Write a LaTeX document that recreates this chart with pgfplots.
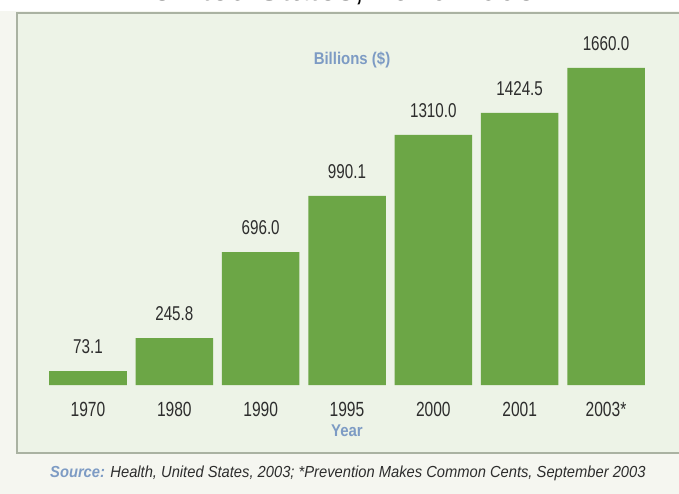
\documentclass[border=0pt]{standalone}
\usepackage{fontspec}
\setmainfont{Liberation Sans}
\newfontfamily\condfont{Liberation Sans}[FakeStretch=0.76]
\newfontfamily\labfont{Liberation Sans}[FakeStretch=0.88]
\newfontfamily\srcfont{Liberation Sans}[FakeStretch=0.92]
\usepackage{pgfplots}
\pgfplotsset{compat=1.18}
\definecolor{outerbg}{RGB}{245,246,240}
\definecolor{panelbg}{RGB}{237,243,231}
\definecolor{panelline}{RGB}{170,178,162}
\definecolor{bargreen}{RGB}{108,166,70}
\definecolor{labblue}{RGB}{125,155,196}
\definecolor{txtgray}{RGB}{45,45,45}
\begin{document}
\begin{tikzpicture}[x=1bp,y=-1bp]
\useasboundingbox (0,0) rectangle (679,494);
\clip (0,0) rectangle (679,494);
\fill[outerbg] (0,0) rectangle (679,494);
\fill[white] (0,0) rectangle (679,11);
\filldraw[fill=panelbg,draw=panelline,line width=1.3bp] (17,13) rectangle (700,453);
\node[anchor=base west,inner sep=0pt,text=black,font=\fontsize{34bp}{40bp}\selectfont] at (150,1) {United States, 1970-2003};
\begin{axis}[
  at={(44.83bp,-385bp)}, anchor=south west,
  scale only axis, width=604.33bp, height=317bp,
  xmin=-0.5, xmax=6.5, ymin=0, ymax=1660,
  axis line style={draw=none},
  tick style={draw=none},
  ytick=\empty,
  xtick={0,1,2,3,4,5,6},
  xticklabels={1970,1980,1990,1995,2000,2001,2003*},
  xticklabel style={anchor=center, yshift=-20.5bp, text=txtgray,
     font=\condfont\fontsize{20.5bp}{24bp}\selectfont},
  ybar, bar width=77.5bp, bar shift=0pt,
  nodes near coords,
  nodes near coords style={anchor=center, yshift=24bp, text=txtgray,
     font=\condfont\fontsize{20bp}{24bp}\selectfont,
     /pgf/number format/.cd, fixed, fixed zerofill, precision=1, 1000 sep={}, assume math mode=true},
  clip=false,
]
\addplot[fill=bargreen, draw=none] coordinates {
 (0,73.1) (1,245.8) (2,696.0) (3,990.1) (4,1310.0) (5,1424.5) (6,1660.0)};
\end{axis}
\node[anchor=center,inner sep=0pt,text=labblue,font=\labfont\bfseries\fontsize{17bp}{20bp}\selectfont] at (352,60) {Billions (\$)};
\node[anchor=center,inner sep=0pt,text=labblue,font=\labfont\bfseries\fontsize{17bp}{20bp}\selectfont] at (347,431) {Year};
\node[anchor=base west,inner sep=0pt,text=txtgray,font=\srcfont\itshape\fontsize{16bp}{18bp}\selectfont] at (50,477) {{\color{labblue}\bfseries Source:} Health, United States, 2003; *Prevention Makes Common Cents, September 2003};
\end{tikzpicture}
\end{document}
